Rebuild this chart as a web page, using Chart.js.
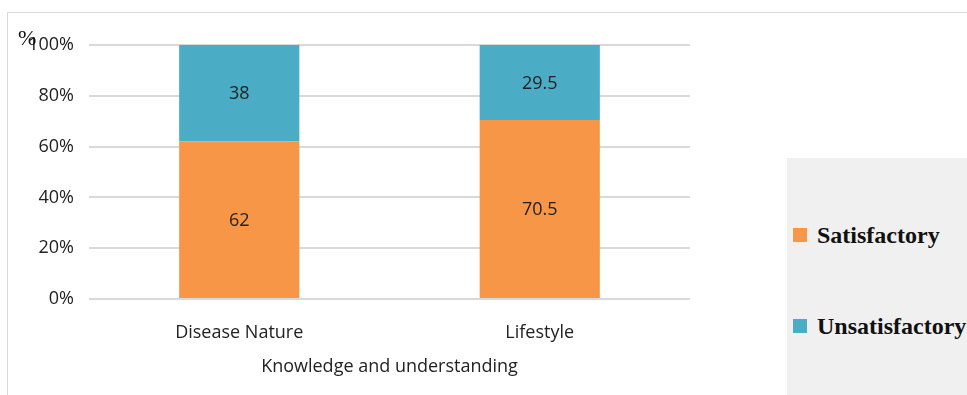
<!DOCTYPE html>
<html>
<head>
<meta charset="utf-8">
<script src="https://cdn.jsdelivr.net/npm/chart.js@4"></script>
<style>
  html, body { margin: 0; padding: 0; background: #fff; }
  #wrap { position: relative; width: 967px; height: 395px; overflow: hidden; }
  #frame { position: absolute; left: 7px; top: 12px; width: 980px; height: 400px; border: 1px solid #d9d9d9; box-sizing: border-box; }
  #pct { position: absolute; left: 18px; top: 25px; font: 22px "Liberation Serif", serif; color: #111; }
  #legend { position: absolute; left: 787px; top: 158px; width: 190px; height: 240px; background: #f0f0f0; }
  .item { position: absolute; left: 6px; font: bold 24px/26px "Liberation Serif", serif; color: #111; white-space: nowrap; }
  .item span { display: inline-block; width: 14px; height: 14px; margin-right: 10px; vertical-align: 1px; }
  canvas { position: absolute; left: 0; top: 0; }
</style>
</head>
<body>
<div id="wrap">
  <div id="frame"></div>
  <canvas id="myChart" width="967" height="395"></canvas>
  <div id="pct">%</div>
  <div id="legend"></div>
</div>
<script>
const categories = ["Disease Nature", "Lifestyle"];
const satisfactoryValues = [62, 70.5];
const unsatisfactoryValues = [38, 29.5];
const seriesNames = ["Satisfactory", "Unsatisfactory"];
const seriesColors = ["#f79646", "#4bacc6"];
const yTicks = [0, 20, 40, 60, 80, 100];

const textColor = "#222"
const font = "\"Open Sans\", sans-serif"

// prints the value in the middle of every bar segment
const segmentLabels = {
  id: "segmentLabels",
  afterDatasetsDraw(chart) {
    const ctx = chart.ctx
    ctx.save()
    ctx.fillStyle = textColor
    ctx.font = "18px " + font
    ctx.textAlign = "center"
    ctx.textBaseline = "middle"
    chart.data.datasets.forEach((ds, i) => {
      chart.getDatasetMeta(i).data.forEach((bar, j) => {
        const {x, y, base} = bar.getProps(["x", "y", "base"], true)
        ctx.fillText(ds.data[j], x, (y + base) / 2 + 1)
      })
    })
    ctx.restore()
  }
}

const chart = new Chart("myChart", {
  type: "bar",
  data: {
    labels: categories,
    datasets: [
      {label: seriesNames[0], data: satisfactoryValues, backgroundColor: seriesColors[0]},
      {label: seriesNames[1], data: unsatisfactoryValues, backgroundColor: seriesColors[1]}
    ]
  },
  options: {
    responsive: false,
    animation: false,
    layout: {padding: {top: 45, right: 277, left: 0, bottom: 0}},
    datasets: {bar: {categoryPercentage: 0.4, barPercentage: 1}},
    plugins: {legend: {display: false}, tooltip: {enabled: false}},
    scales: {
      x: {
        stacked: true,
        grid: {display: false},
        border: {display: false},
        ticks: {color: textColor, font: {family: font, size: 18}, padding: 15},
        title: {display: true, text: "Knowledge and understanding", color: textColor, font: {family: font, size: 18}, padding: {top: 4, bottom: 17}},
        afterFit: s => { s.height = 96 }
      },
      y: {
        stacked: true,
        min: 0,
        max: 100,
        afterBuildTicks: s => { s.ticks = yTicks.map(v => ({value: v})) },
        grid: {color: "#d9d9d9", lineWidth: 2, drawTicks: false},
        border: {display: false},
        ticks: {color: textColor, font: {family: font, size: 18}, padding: 15, callback: v => v + "%"},
        afterFit: s => { s.width = 89 }
      }
    }
  },
  plugins: [segmentLabels]
})

// legend box on the right, built from the chart's own datasets
const legendBox = document.getElementById("legend")
chart.data.datasets.forEach((ds, i) => {
  const item = document.createElement("div")
  item.className = "item"
  item.style.top = (64 + i * 91) + "px"
  item.innerHTML = '<span style="background:' + ds.backgroundColor + '"></span>' + ds.label
  legendBox.appendChild(item)
})
</script>
</body>
</html>
